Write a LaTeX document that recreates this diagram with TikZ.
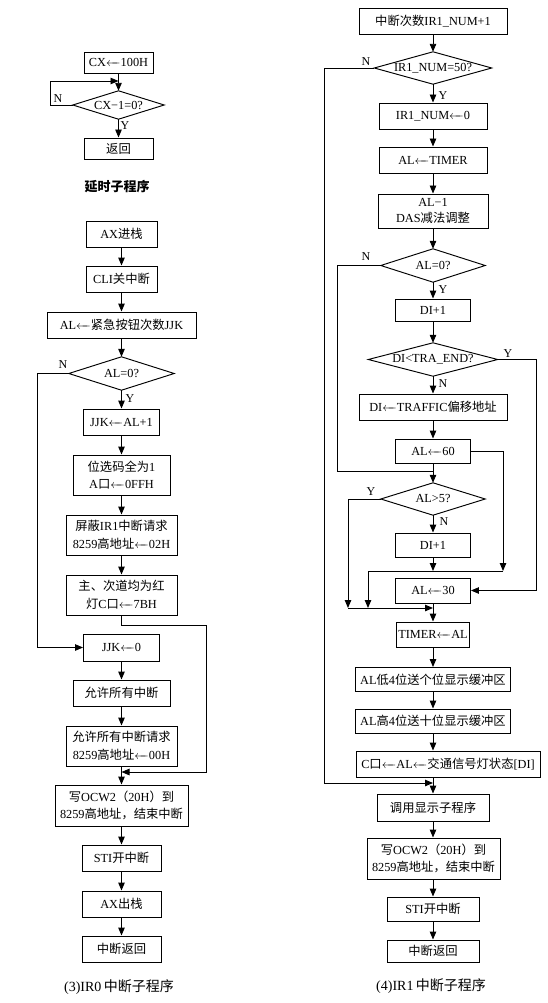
\documentclass[tikz,border=0pt]{standalone}
\usepackage{fontspec}
\setmainfont{Liberation Serif}
\newfontfamily\cjk{Noto Sans CJK SC}
\usetikzlibrary{arrows.meta}
\newcommand\zh[1]{{\cjk #1}}
\newcommand\la{\ensuremath{\mathrel{\leftarrow\mkern-10mu\relbar}}}
\begin{document}
\begin{tikzpicture}[x=1pt,y=-1pt,
  font=\fontsize{12.3}{17.5}\selectfont,
  box/.style={draw,line width=0.95pt,inner sep=0pt,align=center},
  dia/.style={inner sep=0pt,align=center},
  arr/.style={-{Triangle[length=8pt,width=6.5pt]},line width=0.95pt},
  ln/.style={line width=0.95pt},
  lab/.style={font=\fontsize{12}{14}\selectfont,inner sep=0pt},
  captxt/.style={font=\fontsize{14}{16}\selectfont,inner sep=0pt}]
\useasboundingbox (0,0) rectangle (548,1003);

% ---------- delay subroutine ----------
\node[box,minimum width=69pt,minimum height=21pt] (c1) at (118.5,62.5) {CX\la100H};
\node[dia,minimum width=91pt,minimum height=28pt] (d1) at (118.5,105) {CX−1=0?};
\draw[ln] (d1.north)--(d1.east)--(d1.south)--(d1.west)--cycle;
\node[box,minimum width=69pt,minimum height=21pt] (c2) at (118.5,148.5) {\zh{返回}};
\node[inner sep=0pt,font=\cjk\bfseries\fontsize{13}{15}\selectfont] (cap0) at (117,187) {延时子程序};
\coordinate (l1) at (50,81);
\coordinate (m1) at (118.5,81);
\draw[arr] (c1.south) -- (d1.north);
\draw[arr] (d1.west) -| (l1) -- (m1);
\draw[arr] (d1.south) -- (c2.north);
\node[lab] (n0) at (58,99) {N};
\node[lab] (y0) at (125,126) {Y};

% ---------- IR0 ----------
\node[box,minimum width=71pt,minimum height=26pt] (a1) at (121.5,234) {AX\zh{进栈}};
\node[box,minimum width=71pt,minimum height=26pt] (a2) at (121.5,279) {CLI\zh{关中断}};
\node[box,minimum width=149pt,minimum height=26pt] (a3) at (121.5,325) {AL\la\zh{紧急按钮次数}JJK};
\node[dia,minimum width=105pt,minimum height=33pt] (d2) at (121.5,373.5) {AL=0?};
\draw[ln] (d2.north)--(d2.east)--(d2.south)--(d2.west)--cycle;
\node[box,minimum width=76pt,minimum height=26pt] (a4) at (121.5,422) {JJK\la AL+1};
\node[box,minimum width=97pt,minimum height=40pt] (a5) at (121.5,475) {\zh{位选码全为}1\\A\zh{口}\la0FFH};
\node[box,minimum width=111pt,minimum height=40pt] (a6) at (121.5,535) {\zh{屏蔽}IR1\zh{中断请求}\\8259\zh{高地址}\la02H};
\node[box,minimum width=111pt,minimum height=40pt] (a7) at (121.5,595) {\zh{主、次道均为红}\\\zh{灯}C\zh{口}\la7BH};
\node[box,minimum width=76pt,minimum height=27pt] (a8) at (121.5,647.5) {JJK\la0};
\node[box,minimum width=97pt,minimum height=26pt] (a9) at (121.5,693) {\zh{允许所有中断}};
\node[box,minimum width=111pt,minimum height=40pt] (a10) at (121.5,746) {\zh{允许所有中断请求}\\8259\zh{高地址}\la00H};
\node[box,minimum width=133pt,minimum height=41pt] (a11) at (121.5,805.5) {\zh{写}OCW2\zh{（}20H\zh{）到}\\8259\zh{高地址，结束中断}};
\node[box,minimum width=79pt,minimum height=26pt] (a12) at (121.5,858) {STI\zh{开中断}};
\node[box,minimum width=79pt,minimum height=26pt] (a13) at (121.5,904) {AX\zh{出栈}};
\node[box,minimum width=79pt,minimum height=26pt] (a14) at (121.5,949) {\zh{中断返回}};
\node[captxt] (cap1) at (119,987) {(3)IR0\,\zh{中断子程序}};

\draw[arr] (a1.south) -- (a2.north);
\draw[arr] (a2.south) -- (a3.north);
\draw[arr] (a3.south) -- (d2.north);
\draw[arr] (d2.south) -- (a4.north);
\draw[arr] (a4.south) -- (a5.north);
\draw[arr] (a5.south) -- (a6.north);
\draw[arr] (a6.south) -- (a7.north);
\coordinate (p1) at (37,373.5);
\draw[arr] (d2.west) -- (p1) |- (a8.west);
\coordinate (p2) at (121.5,625);
\coordinate (p3) at (206,625);
\coordinate (p4) at (206,772);
\coordinate (p5) at (121.5,772);
\draw[arr] (a7.south) -- (p2) -- (p3) -- (p4) -- (p5);
\draw[arr] (a8.south) -- (a9.north);
\draw[arr] (a9.south) -- (a10.north);
\draw[arr] (a10.south) -- (a11.north);
\draw[arr] (a11.south) -- (a12.north);
\draw[arr] (a12.south) -- (a13.north);
\draw[arr] (a13.south) -- (a14.north);
\node[lab] (n1) at (63,365) {N};
\node[lab] (y1) at (130,399) {Y};

% ---------- IR1 ----------
\node[box,minimum width=148pt,minimum height=26pt] (b1) at (433,21) {\zh{中断次数}IR1\_NUM+1};
\node[dia,minimum width=117pt,minimum height=32pt] (e1) at (433,68) {IR1\_NUM=50?};
\draw[ln] (e1.north)--(e1.east)--(e1.south)--(e1.west)--cycle;
\node[box,minimum width=108pt,minimum height=26pt] (b2) at (433,116) {IR1\_NUM\la0};
\node[box,minimum width=108pt,minimum height=26pt] (b3) at (433,160) {AL\la TIMER};
\node[box,minimum width=110pt,minimum height=34pt] (b4) at (433,211) {AL−1\\[-1pt]DAS\zh{减法调整}};
\node[dia,minimum width=104pt,minimum height=33pt] (e2) at (433,265.5) {AL=0?};
\draw[ln] (e2.north)--(e2.east)--(e2.south)--(e2.west)--cycle;
\node[box,minimum width=75pt,minimum height=22pt] (b5) at (433,310) {DI+1};
\node[dia,minimum width=129pt,minimum height=33pt] (e3) at (433,359.5) {DI<TRA\_END?};
\draw[ln] (e3.north)--(e3.east)--(e3.south)--(e3.west)--cycle;
\node[box,minimum width=148pt,minimum height=26pt] (b6) at (433,407) {DI\la TRAFFIC\zh{偏移地址}};
\node[box,minimum width=75pt,minimum height=24pt] (b7) at (433,451) {AL\la60};
\node[dia,minimum width=104pt,minimum height=32pt] (e4) at (433,499) {AL>5?};
\draw[ln] (e4.north)--(e4.east)--(e4.south)--(e4.west)--cycle;
\node[box,minimum width=75pt,minimum height=24pt] (b8) at (433,545) {DI+1};
\node[box,minimum width=75pt,minimum height=25pt] (b9) at (433,590.5) {AL\la30};
\node[box,minimum width=73pt,minimum height=25pt] (b10) at (433,634.5) {TIMER\la AL};
\node[box,minimum width=155pt,minimum height=24pt] (b11) at (433,679.5) {AL\zh{低}4\zh{位送个位显示缓冲区}};
\node[box,minimum width=155pt,minimum height=24pt] (b12) at (433,721) {AL\zh{高}4\zh{位送十位显示缓冲区}};
\node[box,minimum width=184pt,minimum height=26pt] (b13) at (448,764) {C\zh{口}\la AL\la\zh{交通信号灯状态}[DI]};
\node[box,minimum width=112pt,minimum height=27pt] (b14) at (433,807.5) {\zh{调用显示子程序}};
\node[box,minimum width=133pt,minimum height=41pt] (b15) at (433.5,858.5) {\zh{写}OCW2\zh{（}20H\zh{）到}\\8259\zh{高地址，结束中断}};
\node[box,minimum width=92pt,minimum height=24pt] (b16) at (433,909) {STI\zh{开中断}};
\node[box,minimum width=92pt,minimum height=22pt] (b17) at (433,951) {\zh{中断返回}};
\node[captxt] (cap2) at (431,986) {(4)IR1\,\zh{中断子程序}};

\draw[arr] (b1.south) -- (e1.north);
\draw[arr] (e1.south) -- (b2.north);
\draw[arr] (b2.south) -- (b3.north);
\draw[arr] (b3.south) -- (b4.north);
\draw[arr] (b4.south) -- (e2.north);
\draw[arr] (e2.south) -- (b5.north);
\draw[arr] (b5.south) -- (e3.north);
\draw[arr] (e3.south) -- (b6.north);
\draw[arr] (b6.south) -- (b7.north);
\draw[arr] (b7.south) -- (e4.north);
\draw[arr] (e4.south) -- (b8.north);
\draw[arr] (b9.south) -- (b10.north);
\draw[arr] (b10.south) -- (b11.north);
\draw[arr] (b11.south) -- (b12.north);
\draw[arr] (b12.south) -- (b12.south |- b13.north);
\draw[arr] (b13.south -| b14.north) -- (b14.north);
\draw[arr] (b14.south) -- (b15.north -| b14.south);
\draw[arr] (b15.south -| b16.north) -- (b16.north);
\draw[arr] (b16.south) -- (b17.north);

\coordinate (k1) at (324,783);
\coordinate (k2) at (433,783);
\draw[arr] (e1.west) -| (k1) -- (k2);
\coordinate (k3) at (337,471);
\coordinate (k4) at (433,471);
\draw[ln] (e2.west) -| (k3) -- (k4);
\coordinate (k5) at (536,359.5);
\draw[arr] (e3.east) -- (k5) |- (b9.east);
\coordinate (k6) at (503,451);
\coordinate (k7) at (503,571);
\draw[arr] (b7.east) -- (k6) -- (k7);
\coordinate (k8) at (368,571);
\coordinate (k9) at (368,608);
\draw[arr] (k7) -- (k8) -- (k9);
\coordinate (k10) at (433,571);
\draw[arr] (b8.south) -- (k10);
\coordinate (k12) at (348,608);
\draw[arr] (e4.west) -| (k12);
\coordinate (k13) at (433,608);
\draw[arr] (k12) -- (k13);

\node[lab] (n2) at (366,62) {N};
\node[lab] (y2) at (443,96) {Y};
\node[lab] (n3) at (366,257) {N};
\node[lab] (y3) at (443,290) {Y};
\node[lab] (y4) at (508,354) {Y};
\node[lab] (n4) at (443,384) {N};
\node[lab] (y5) at (371,492) {Y};
\node[lab] (n5) at (444,522) {N};
\end{tikzpicture}
\end{document}
